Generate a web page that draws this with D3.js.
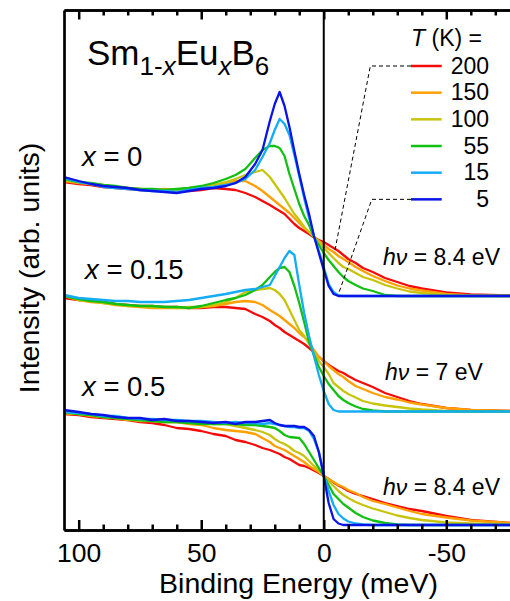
<!DOCTYPE html>
<html>
<head>
<meta charset="utf-8">
<script src="https://cdn.jsdelivr.net/npm/d3@7"></script>
<style>
  body { margin: 0; background: #fff; }
  svg { display: block; font-family: "Liberation Sans", Arial, sans-serif; }
</style>
</head>
<body>
<div id="chart"></div>
<script>
// binding energy grid (meV), shared by every spectrum
var energy = [106, 100, 95, 90, 85, 80, 75, 70, 65, 60,
              55, 50, 45, 40, 36, 32, 28, 25, 22, 20,
              18, 16, 14, 12, 10, 8, 6, 4, 2, 0,
              -2, -4, -6, -8, -10, -13, -16, -20, -25, -30,
              -35, -40, -50, -60, -76];

var temps = ["200", "150", "100", "55", "15", "5"];
var colors = ["#f50a0a", "#ffa000", "#c8c40c", "#12c012", "#14acf5", "#0a14e6"];

var majorTicks = [100, 50, 0, -50];
var minorTicks = [90, 80, 70, 60, 40, 30, 20, 10, -10, -20, -30, -40, -60, -70];

// intensities (arb. units, stacked offsets included), x = 0, hv = 8.4 eV
var x0_200 = [348,346,345,343,342,341,340,340,339,340, 339,340,342,341,340,337,333,329,325,322,
              319,316,311,306,302,299,296,292.5,290,288, 285,282,279,275,271,267,262,258,252,248,
              244,241.5,237.5,235.5,234.5];
var x0_150 = [349,347,346,344,343,342,341,340,341,340, 342,343,345,347,349,349,344,339,333,329,
              325,321,317,312,307,302,298,293,289,285, 281,278,274,271,268,263,259,254,249,244.5,
              241.5,239.5,236,234.5,234];
var x0_100 = [350,348,346,345,343,342,341,340,340,340, 341,343,345,348,351,355,358,360,353,346,
              339,332,324,316,310,303,298,293,287,282, 277,272,267,263,261,257,253,250,245,241.5,
              238.5,237,235,234,234];
var x0_55 = [351,348,347,345,344,342,341,341,340,341, 342,344,347,351,355,361,372,380,384,384,
             382,374,356,341,326,314,305,293,285,277, 270,264,258,253,249,245,241.5,239,235,234,
             234,234,234,234,234];
var x0_15 = [352,348,346,343,342,341,340,339,339,338, 340,342,343,345,347,351,360,373,387,400,
             411,406,395,375,354,332,312,294,279,263, 246,238,234.5,234,234,234,234,234,234,234,
             234,234,234,234,234];
var x0_5 = [353,349,346,344,343,342,340,339,338,337, 339,341,342,344,347,353,366,380,409,426,
            438,424,403,379,356,335,316,294,277,260, 244,236,234,234,234,234,234,234,234,234,
            234,234,234,234,234];

// x = 0.15, hv = 7 eV
var x15_200 = [232,230,229,228,226,225,224,224,223,223, 222,222,223,223,222,221,216,213,209,205,
               202,198,195,192,189,186,182,178,173,169, 165,162,159,157,154,150,147,143,137,133,
               129,126,122,120,119];
var x15_150 = [234,230,228,227,225,224,223,222,222,222, 222,223,224,226,228,229,228,225,220,217,
               214,210,206,202,197,193,188,180,173,169, 164,160,156,153,149,144,141,137,133,130.5,
               127.5,125.5,122,120,119];
var x15_100 = [234,230,229,227,226,224,224,223,223,222, 223,223,225,228,232,238,240,241,242,240,
               236,230,220,210,200,194,186,178,169,163, 156,147,143,139,136,132.5,129,126.5,124.5,123,
               121.5,120.5,119.2,118.7,118.5];
var x15_55 = [234,231,229,228,226,225,224,224,223,223, 222,224,227,230,232,235,240,245,253,258,
              262,263,258,244,227,208,188,175,163,154, 146,140,134,130,127,123.5,121,119.5,118.5,118.5,
              118.5,118.5,118.5,118.5,118.5];
var x15_15 = [235,232,231,230,229,229,228,228,228,229, 230,232,234,236,238,240,241,243,245,254,
              263,272,279,275,245,217,194,174,155,139, 126,120,118.5,118.5,118.5,118.5,118.5,118.5,118.5,118.5,
              118.5,118.5,118.5,118.5,118.5];

// x = 0.5, hv = 8.4 eV
var x5_200 = [116,115,113,112,111,110,108,107,105,102, 101,99,96,94,90,88,85,82,80,78,
              76,73,71,68,65,64,62,59.5,57,54, 51,47.5,44.5,42,39,36,34,31,27,24,
              21,19,14,10,7];
var x5_150 = [117,116,114,113,112,110,110,109,108,108, 106,105,102,100,99,98,96,92,88,84,
              82,80,77,74,71,68,64,61,58,54, 51,48,45,43,40,37,33,29,26,22.5,
              19,16,12.5,9.5,7];
var x5_100 = [117,116,115,113,112,111,109,109,108,108, 107,107,106,106,104,102,100,98,95,91,
              88,86,83,79,77,74,69,64,60,54, 49,44,39,35,32,28,25,21.5,18,14.5,
              12,10,7.5,6.5,5.5];
var x5_55 = [118,116,115,113,112,111,110,109,108,108, 107,106,106,106,106,105,105,104,103,102,
             99,95,93,92.5,92,86,78,70,62,54, 45,36,31,26,22.5,17,13,9.5,7,5.5,
             5,5,5,5,5];
var x5_15 = [118,117,116,114,114,112,111,111,110,110, 109,109,108,107,108,107,107,106,107,106,
             105,104,103,103,102,102,99,91,78,56, 39,25,16,11.5,8.5,6.5,5.5,5,5,5,
             5,5,5,5,5];
var x5_5 = [120,118,116,115,113,112,112,110,111,109, 109,108,107,108,106,108,108,109,110,107,
            105,104,104,104,103,103,100,94,78,54, 27,11,6.5,5,5,5,5,5,5,5,
            5,5,5,5,5];

var groups = [
  {label: "0",    hv: "8.4", curves: [x0_200, x0_150, x0_100, x0_55, x0_15, x0_5]},
  {label: "0.15", hv: "7",   curves: [x15_200, x15_150, x15_100, x15_55, x15_15, null]},
  {label: "0.5",  hv: "8.4", curves: [x5_200, x5_150, x5_100, x5_55, x5_15, x5_5]}
];

var margin = {top: 10, right: 0, bottom: 71, left: 64},
    width = 510 - margin.left - margin.right,
    height = 601 - margin.top - margin.bottom;

var svg = d3.select("#chart")
  .append("svg")
    .attr("width", 510)
    .attr("height", 601)
  .append("g")
    .attr("transform", "translate(" + margin.left + "," + margin.top + ")");

var x = d3.scaleLinear().domain([106, -76]).range([0, width]);
var y = d3.scaleLinear().domain([0, height]).range([height, 0]);

var line = d3.line()
  .x(function(d) { return x(d[0]); })
  .y(function(d) { return y(d[1]); });

// spectra
groups.forEach(function(g) {
  g.curves.forEach(function(vals, i) {
    if (!vals) return;
    svg.append("path")
      .datum(energy.map(function(e, k) { return [e, vals[k]]; }))
      .attr("fill", "none")
      .attr("stroke", colors[i])
      .attr("stroke-width", 2.3)
      .attr("stroke-linejoin", "round")
      .attr("d", line);
  });
});

// Fermi level
svg.append("line")
  .attr("x1", x(0)).attr("x2", x(0))
  .attr("y1", 0).attr("y2", height)
  .attr("stroke", "#000")
  .attr("stroke-width", 2);

// axes: frame + inward ticks
function styleAxis(sel) {
  sel.selectAll("path.domain").attr("stroke-width", 2.7);
  sel.selectAll(".tick line").attr("stroke-width", 2.5);
}
svg.append("g")
  .attr("transform", "translate(0," + height + ")")
  .call(d3.axisBottom(x).tickValues(minorTicks).tickSize(-5.5).tickSizeOuter(0).tickFormat(""))
  .call(styleAxis);
var xb = svg.append("g")
  .attr("transform", "translate(0," + height + ")")
  .call(d3.axisBottom(x).tickValues(majorTicks).tickSize(-10).tickSizeOuter(0).tickPadding(13.5)
    .tickFormat(function(d) { return String(d); }))
  .call(styleAxis);
xb.selectAll("text")
  .attr("font-family", "Liberation Sans, Arial, sans-serif")
  .attr("font-size", "26.5px")
  .attr("fill", "#000");
svg.append("g")
  .call(d3.axisTop(x).tickValues(minorTicks).tickSize(-5.5).tickSizeOuter(0).tickFormat(""))
  .call(styleAxis);
svg.append("g")
  .call(d3.axisTop(x).tickValues(majorTicks).tickSize(-9.5).tickSizeOuter(0).tickFormat(""))
  .call(styleAxis);
svg.append("g")
  .call(d3.axisLeft(y).tickValues([]).tickSizeOuter(0))
  .call(styleAxis);

// axis titles
svg.append("text")
  .attr("x", 234.5)
  .attr("y", height + 63.3)
  .attr("text-anchor", "middle")
  .attr("font-size", "28.5px")
  .text("Binding Energy (meV)");
svg.append("text")
  .attr("transform", "translate(" + (38.6 - margin.left) + "," + (268 - margin.top) + ") rotate(-90)")
  .attr("text-anchor", "middle")
  .attr("font-size", "28.5px")
  .text("Intensity (arb. units)");

// compound title
var title = svg.append("text")
  .attr("x", 87 - margin.left)
  .attr("y", 65 - margin.top)
  .attr("font-size", "35px");
title.append("tspan").text("Sm");
title.append("tspan").attr("font-size", "26px").attr("dy", 10).text("1-");
title.append("tspan").attr("font-size", "26px").attr("font-style", "italic").text("x");
title.append("tspan").attr("dy", -10).text("Eu");
title.append("tspan").attr("font-size", "26px").attr("font-style", "italic").attr("dy", 10).text("x");
title.append("tspan").attr("dy", -10).text("B");
title.append("tspan").attr("font-size", "26px").attr("dy", 10).text("6");

// group labels
var labelPos = [[82, 165.7], [85, 279.3], [82, 396]];
var hvPos = [[383, 265], [385, 380], [383, 495]];
groups.forEach(function(g, i) {
  var t = svg.append("text")
    .attr("x", labelPos[i][0] - margin.left)
    .attr("y", labelPos[i][1] - margin.top)
    .attr("font-size", "27.5px");
  t.append("tspan").attr("font-style", "italic").text("x");
  t.append("tspan").text(" = " + g.label);

  var h = svg.append("text")
    .attr("x", hvPos[i][0] - margin.left)
    .attr("y", hvPos[i][1] - margin.top)
    .attr("font-size", "23px");
  h.append("tspan").attr("font-style", "italic").text("h\u03bd");
  h.append("tspan").text(" = " + g.hv + " eV");
});

// legend
var legX = 411 - margin.left, legW = 30.7, legTextX = 489 - margin.left;
var legY0 = 66 - margin.top, legDy = 26.67;
var hdr = svg.append("text")
  .attr("x", 482 - margin.left)
  .attr("y", 46 - margin.top)
  .attr("text-anchor", "end")
  .attr("font-size", "23px");
hdr.append("tspan").attr("font-style", "italic").text("T");
hdr.append("tspan").text(" (K) =");

temps.forEach(function(t, i) {
  var ly = legY0 + i * legDy;
  svg.append("line")
    .attr("x1", legX).attr("x2", legX + legW)
    .attr("y1", ly).attr("y2", ly)
    .attr("stroke", colors[i])
    .attr("stroke-width", 2.5);
  svg.append("text")
    .attr("x", legTextX)
    .attr("y", ly + 7.8)
    .attr("text-anchor", "end")
    .attr("font-size", "23px")
    .text(t);
});

// dashed leaders from legend to the x = 0 spectra
var leaders = [
  {row: 0, elbow: -19, e: -4.6, v: 280},
  {row: 5, elbow: -19.6, e: -6, v: 236}
];
leaders.forEach(function(l) {
  var ly = legY0 + l.row * legDy;
  svg.append("path")
    .attr("d", "M" + legX + "," + ly + "H" + x(l.elbow) + "L" + x(l.e) + "," + y(l.v))
    .attr("fill", "none")
    .attr("stroke", "#000")
    .attr("stroke-width", 1)
    .attr("stroke-dasharray", "4,3");
});
</script>
</body>
</html>
